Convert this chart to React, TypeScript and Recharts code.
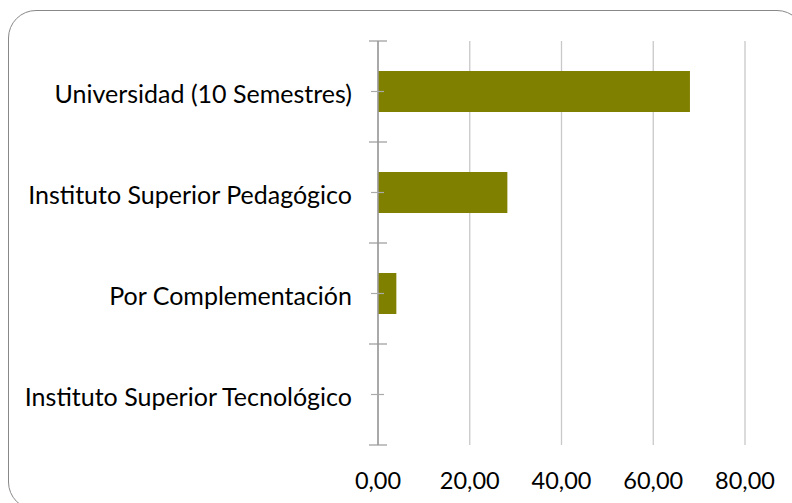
import React from "react";
import { BarChart, Bar, XAxis, YAxis, CartesianGrid } from "recharts";

const categories = [
  "Universidad (10 Semestres)",
  "Instituto Superior Pedagógico",
  "Por Complementación",
  "Instituto Superior Tecnológico",
];
const values = [68.0, 28.2, 4.0, 0];
const xTicks = [0, 20, 40, 60, 80];

const data = categories.map((name, i) => ({ name, value: values[i] }));

const W = 792;
const H = 503;
const MARGIN = { top: 41, right: 47, bottom: 0, left: 0 };
const Y_AXIS_W = 378;
const X_AXIS_H = 58;
const PLOT_H = H - MARGIN.top - MARGIN.bottom - X_AXIS_H;
const BAND = PLOT_H / categories.length;
const FONT = "Lato, 'Open Sans', sans-serif";
const FS_Y = 25;
const FS_X = 23.5;

const fmt = (v: number) => v.toFixed(2).replace(".", ",");

const YTick = (props: any) => {
  const { y, payload, index } = props;
  const axisX = Y_AXIS_W;
  return (
    <g>
      <line x1={axisX - 9} x2={axisX + 9} y1={y - BAND / 2} y2={y - BAND / 2} stroke="#999" strokeWidth={1.2} />
      {index === categories.length - 1 && (
        <line x1={axisX - 9} x2={axisX + 9} y1={y + BAND / 2} y2={y + BAND / 2} stroke="#999" strokeWidth={1.2} />
      )}
      <line x1={axisX - 7} x2={axisX + 6} y1={y} y2={y} stroke="#aaa" strokeWidth={1.2} />
      <text x={352} y={y + 1} textAnchor="end" dominantBaseline="central" fontFamily={FONT} fontSize={FS_Y} fill="#000">
        {payload.value}
      </text>
    </g>
  );
};

const XTick = (props: any) => {
  const { x, payload } = props;
  return (
    <text x={x} y={480} textAnchor="middle" dominantBaseline="central" fontFamily={FONT} fontSize={FS_X} fill="#000">
      {fmt(payload.value)}
    </text>
  );
};

export default function App() {
  return (
    <div style={{ position: "absolute", left: 0, top: 0, width: W, height: H, overflow: "hidden", background: "#fff" }}>
      <div
        style={{
          position: "absolute",
          left: 8,
          top: 10,
          width: 797,
          height: 500,
          border: "1.5px solid #888",
          borderRadius: 28,
          boxSizing: "border-box",
        }}
      />
      <div style={{ position: "absolute", left: 0, top: 0 }}>
        <BarChart width={W} height={H} data={data} layout="vertical" margin={MARGIN}>
          <CartesianGrid horizontal={false} stroke="#c8c8c8" strokeWidth={1.3} />
          <XAxis
            type="number"
            domain={[0, 80]}
            ticks={xTicks}
            axisLine={false}
            tickLine={false}
            height={X_AXIS_H}
            tick={<XTick />}
            interval={0}
          />
          <YAxis
            type="category"
            dataKey="name"
            width={Y_AXIS_W}
            axisLine={{ stroke: "#999", strokeWidth: 1.5 }}
            tickLine={false}
            tick={<YTick />}
            interval={0}
          />
          <Bar dataKey="value" fill="#808000" barSize={41} isAnimationActive={false} />
        </BarChart>
      </div>
    </div>
  );
}
